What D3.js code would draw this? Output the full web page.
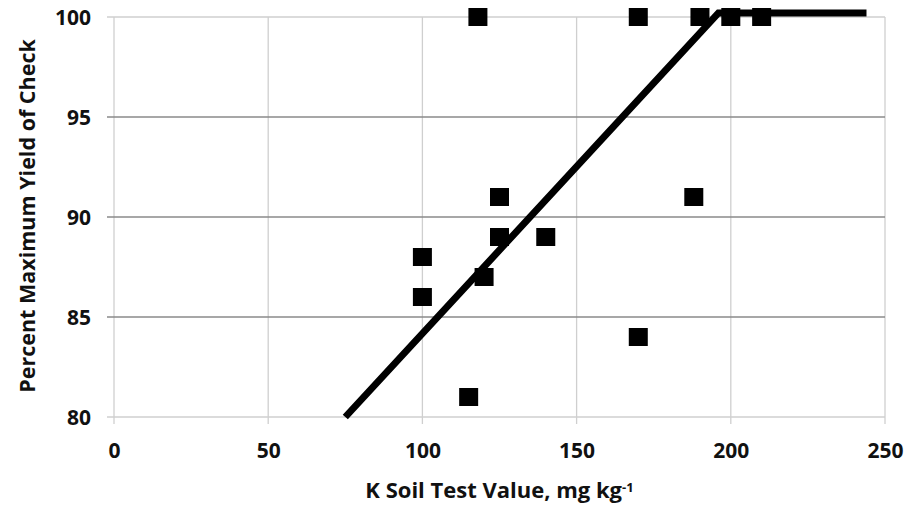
<!DOCTYPE html>
<html>
<head>
<meta charset="utf-8">
<script src="https://cdn.jsdelivr.net/npm/d3@7"></script>
<style>
  html, body { margin: 0; padding: 0; background: #fff; }
  svg text { font-family: "Open Sans", "DejaVu Sans", sans-serif; font-weight: bold; fill: #111; }
</style>
</head>
<body>
<div id="chart"></div>
<script>
// observed points (K soil test value, % of max yield)
const soilK = [118, 170, 190, 200, 210, 100, 100, 120, 125, 125, 140, 170, 188, 115];
const yieldPct = [100, 100, 100, 100, 100, 88, 86, 87, 91, 89, 89, 84, 91, 81];

// fitted linear-plateau model
const fitK = [75, 196, 244];
const fitYield = [80, 100.2, 100.2];

const xTicks = [0, 50, 100, 150, 200, 250];
const yTicks = [80, 85, 90, 95, 100];

const W = 910, H = 506;
const margin = { top: 17, right: 25, bottom: 89, left: 114 };
const width = W - margin.left - margin.right;
const height = H - margin.top - margin.bottom;

const svg = d3.select('#chart').append('svg')
  .attr('width', W)
  .attr('height', H);

const g = svg.append('g')
  .attr('transform', `translate(${margin.left},${margin.top})`);

const x = d3.scaleLinear().domain([0, 250]).range([0, width]);
const y = d3.scaleLinear().domain([80, 100]).range([height, 0]);

// vertical gridlines (light), with little tick stubs below
g.append('g')
  .selectAll('line')
  .data(xTicks)
  .enter()
  .append('line')
  .attr('x1', d => x(d)).attr('x2', d => x(d))
  .attr('y1', 0).attr('y2', height + 7)
  .attr('stroke', '#cfcfcf')
  .attr('stroke-width', 1.3);

// horizontal gridlines: inner ones darker, edges light
g.append('g')
  .selectAll('line')
  .data(yTicks)
  .enter()
  .append('line')
  .attr('x1', -7).attr('x2', width)
  .attr('y1', d => y(d)).attr('y2', d => y(d))
  .attr('stroke', d => (d === 80 || d === 100) ? '#cfcfcf' : '#8a8a8a')
  .attr('stroke-width', 1.3);

// tick labels via axes, with lines hidden
const yAxis = g.append('g')
  .call(d3.axisLeft(y).tickValues(yTicks).tickSize(0).tickPadding(23));
yAxis.select('.domain').remove();
yAxis.selectAll('text')
  .style('font-size', '21px')
  .attr('dy', '0.36em');

const xAxis = g.append('g')
  .attr('transform', `translate(0,${height})`)
  .call(d3.axisBottom(x).tickValues(xTicks).tickSize(0).tickPadding(26));
xAxis.select('.domain').remove();
xAxis.selectAll('text')
  .style('font-size', '21px');

// fitted line
const line = d3.line()
  .x((d, i) => x(fitK[i]))
  .y((d, i) => y(fitYield[i]));

g.append('path')
  .datum(fitK)
  .attr('d', line)
  .attr('fill', 'none')
  .attr('stroke', '#000')
  .attr('stroke-width', 7);

// square markers
const mw = 19, mh = 18;
g.selectAll('rect.pt')
  .data(soilK)
  .enter()
  .append('rect')
  .attr('class', 'pt')
  .attr('x', d => x(d) - mw / 2)
  .attr('y', (d, i) => y(yieldPct[i]) - mh / 2)
  .attr('width', mw)
  .attr('height', mh)
  .attr('fill', '#000');

// axis titles
const xt = svg.append('text')
  .attr('x', margin.left + width / 2)
  .attr('y', 498)
  .attr('text-anchor', 'middle')
  .style('font-size', '22px');
xt.append('tspan').text('K Soil Test Value, mg kg');
xt.append('tspan').attr('dy', '-0.5em').style('font-size', '13px').text('-1');

svg.append('text')
  .attr('transform', `translate(35,${margin.top + 199}) rotate(-90)`)
  .attr('text-anchor', 'middle')
  .style('font-size', '21.5px')
  .text('Percent Maximum Yield of Check');
</script>
</body>
</html>
